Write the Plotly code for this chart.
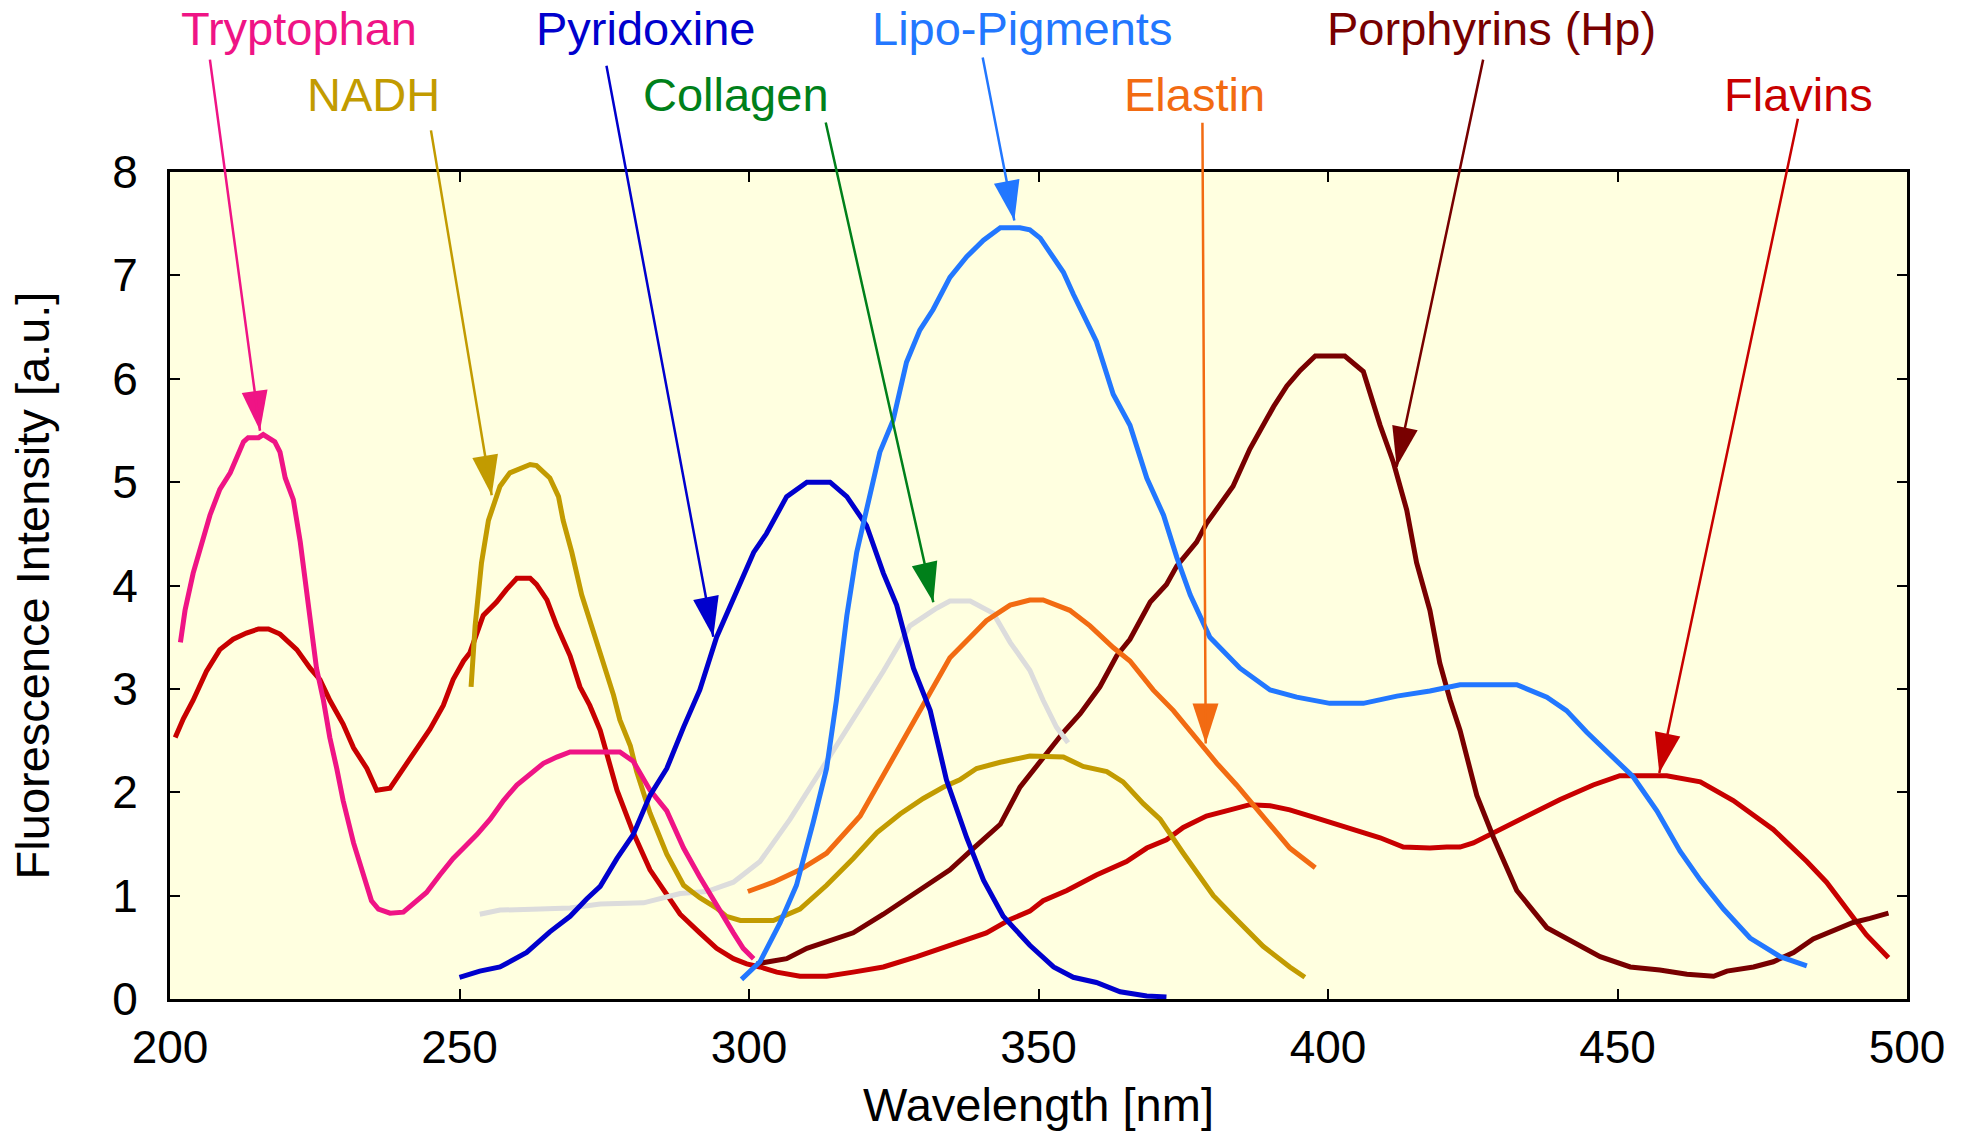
import math
import plotly.graph_objects as go

# ---------------- data ----------------
wl_trp = [201.8, 202.6, 204.0, 205.8, 206.9, 208.6, 210.4, 212.7, 213.5, 215.3, 216.1, 218.1, 219.0, 219.9,
          221.3, 222.5, 223.3, 224.2, 225.3, 226.5, 227.6, 228.8, 229.9, 231.7, 233.4, 234.8, 236.0, 238.0,
          240.3, 242.6, 244.3, 246.6, 248.9, 250.7, 253.0, 255.3, 257.6, 259.9, 262.2, 264.5, 266.8, 269.1,
          274.3, 277.7, 280.0, 282.9, 285.8, 288.7, 291.5, 294.4, 297.3, 299.0, 300.8]
fl_trp = [3.45, 3.76, 4.12, 4.47, 4.68, 4.93, 5.09, 5.39, 5.43, 5.43, 5.46, 5.39, 5.29, 5.04,
          4.83, 4.42, 4.07, 3.76, 3.20, 2.89, 2.53, 2.23, 1.92, 1.51, 1.20, 0.95, 0.87, 0.83,
          0.84, 0.95, 1.03, 1.20, 1.36, 1.46, 1.59, 1.74, 1.92, 2.07, 2.17, 2.28, 2.34, 2.39,
          2.39, 2.39, 2.30, 2.02, 1.82, 1.46, 1.18, 0.90, 0.64, 0.49, 0.39]

wl_fla = [200.9, 202.3, 204.0, 206.3, 208.6, 210.9, 213.2, 215.3, 217.0, 219.0, 221.9, 224.2, 225.9, 227.6,
          229.9, 231.7, 234.0, 235.7, 238.0, 240.3, 242.6, 244.9, 247.2, 248.9, 250.7, 251.8, 254.1, 256.4,
          258.1, 259.9, 262.2, 263.3, 265.1, 266.8, 269.1, 270.8, 272.5, 274.3, 277.2, 280.0, 282.9, 285.8,
          288.1, 291.5, 294.4, 297.3, 299.6, 301.9, 304.8, 308.8, 313.4, 318.0, 323.2, 329.0, 335.3, 341.0,
          345.1, 348.5, 350.8, 354.9, 360.0, 365.2, 368.7, 372.1, 375.0, 379.0, 383.1, 386.5, 390.0, 393.4,
          397.5, 403.2, 409.0, 413.0, 417.6, 420.5, 422.8, 425.1, 429.7, 434.3, 440.1, 445.8, 450.4, 458.5,
          464.3, 470.0, 476.9, 482.7, 486.1, 489.6, 493.0, 496.8]
fl_fla = [2.53, 2.71, 2.89, 3.17, 3.38, 3.48, 3.54, 3.58, 3.58, 3.53, 3.38, 3.20, 3.09, 2.89,
          2.66, 2.43, 2.23, 2.02, 2.04, 2.23, 2.43, 2.61, 2.84, 3.09, 3.27, 3.35, 3.71, 3.84,
          3.96, 4.07, 4.07, 4.01, 3.86, 3.61, 3.32, 3.02, 2.84, 2.60, 2.02, 1.61, 1.25, 1.00,
          0.82, 0.64, 0.49, 0.39, 0.34, 0.31, 0.26, 0.22, 0.22, 0.26, 0.31, 0.41, 0.53, 0.64,
          0.77, 0.85, 0.95, 1.05, 1.20, 1.33, 1.46, 1.54, 1.66, 1.77, 1.83, 1.88, 1.87, 1.83,
          1.76, 1.66, 1.56, 1.47, 1.46, 1.47, 1.47, 1.51, 1.64, 1.76, 1.93, 2.07, 2.16, 2.16,
          2.10, 1.92, 1.64, 1.33, 1.13, 0.87, 0.62, 0.40]

wl_por = [301.3, 306.5, 310.0, 314.6, 318.0, 323.2, 329.5, 334.7, 338.8, 343.4, 346.8, 348.5, 350.3, 354.3,
          357.2, 360.6, 363.5, 365.8, 369.3, 372.1, 373.9, 377.3, 379.0, 383.6, 386.5, 390.6, 392.9, 395.2,
          397.8, 402.9, 406.1, 409.0, 411.3, 413.6, 415.3, 417.6, 419.3, 421.1, 422.8, 425.7, 428.6, 432.6,
          437.8, 441.8, 447.0, 452.2, 457.3, 462.0, 466.6, 468.9, 473.5, 476.9, 480.4, 483.8, 487.3, 490.7,
          493.6, 496.8]
fl_por = [0.34, 0.39, 0.49, 0.57, 0.64, 0.82, 1.05, 1.25, 1.46, 1.69, 2.05, 2.17, 2.30, 2.58,
          2.76, 3.02, 3.32, 3.48, 3.84, 4.01, 4.19, 4.42, 4.60, 4.96, 5.32, 5.73, 5.93, 6.08,
          6.22, 6.22, 6.07, 5.55, 5.19, 4.73, 4.22, 3.76, 3.25, 2.89, 2.60, 1.97, 1.56, 1.05,
          0.69, 0.57, 0.41, 0.31, 0.28, 0.24, 0.22, 0.27, 0.31, 0.36, 0.45, 0.58, 0.66, 0.74,
          0.78, 0.83]

wl_nadh = [252.0, 252.7, 253.8, 255.0, 257.0, 258.7, 262.2, 263.3, 265.6, 267.1, 267.9, 269.4, 271.1, 272.8,
           274.3, 276.6, 277.7, 279.5, 280.6, 282.9, 285.8, 288.7, 291.5, 294.4, 296.1, 298.5, 304.2, 308.8,
           313.4, 318.0, 322.1, 326.1, 330.1, 333.6, 336.4, 339.3, 343.4, 348.5, 354.3, 357.7, 361.8, 364.6,
           368.1, 371.0, 375.0, 380.2, 384.2, 388.8, 393.4, 396.0]
fl_nadh = [3.02, 3.61, 4.22, 4.63, 4.96, 5.09, 5.17, 5.16, 5.04, 4.86, 4.63, 4.32, 3.91, 3.61,
           3.35, 2.94, 2.70, 2.45, 2.20, 1.80, 1.40, 1.10, 0.98, 0.88, 0.80, 0.76, 0.76, 0.87,
           1.10, 1.36, 1.61, 1.79, 1.94, 2.05, 2.12, 2.23, 2.29, 2.35, 2.34, 2.25, 2.20, 2.10,
           1.89, 1.74, 1.41, 1.00, 0.77, 0.51, 0.31, 0.21]

wl_col = [253.5, 257.0, 263.9, 269.1, 274.3, 281.8, 288.1, 292.7, 297.3, 301.9, 307.1, 311.7, 317.4, 323.2,
          327.8, 332.4, 334.7, 338.2, 342.2, 345.1, 348.5, 350.8, 353.1, 355.1]
fl_col = [0.82, 0.86, 0.87, 0.88, 0.92, 0.93, 1.02, 1.04, 1.13, 1.33, 1.74, 2.15, 2.66, 3.17,
          3.61, 3.78, 3.85, 3.85, 3.73, 3.45, 3.18, 2.89, 2.63, 2.48]

wl_pyr = [250.0, 253.5, 257.0, 261.6, 265.6, 269.1, 272.0, 274.3, 277.2, 280.0, 282.9, 285.8, 288.7, 291.5,
          294.4, 297.3, 300.8, 303.0, 306.5, 310.0, 314.0, 316.9, 320.3, 323.2, 325.5, 328.4, 331.3, 334.1,
          337.6, 340.5, 343.9, 348.5, 352.6, 356.0, 360.0, 364.1, 368.7, 372.1]
fl_pyr = [0.21, 0.27, 0.31, 0.45, 0.65, 0.80, 0.97, 1.09, 1.36, 1.59, 1.97, 2.23, 2.63, 2.99,
          3.50, 3.86, 4.32, 4.50, 4.86, 5.00, 5.00, 4.86, 4.58, 4.12, 3.81, 3.20, 2.79, 2.12,
          1.56, 1.15, 0.80, 0.52, 0.31, 0.21, 0.16, 0.07, 0.03, 0.02]

wl_lip = [298.7, 301.9, 305.4, 308.2, 311.1, 313.4, 315.1, 316.9, 318.6, 320.3, 322.6, 324.9, 327.2, 329.5,
          331.8, 334.7, 337.6, 340.5, 343.4, 346.8, 348.5, 350.3, 354.3, 356.0, 360.0, 362.9, 365.8, 368.7,
          371.6, 373.9, 376.2, 379.6, 384.8, 390.0, 394.6, 400.3, 406.1, 411.9, 417.6, 422.8, 432.6, 437.8,
          441.2, 444.7, 448.1, 452.7, 456.8, 460.8, 464.3, 468.3, 472.9, 478.1, 482.7]
fl_lip = [0.19, 0.36, 0.74, 1.10, 1.71, 2.23, 2.89, 3.71, 4.32, 4.73, 5.29, 5.60, 6.16, 6.47,
          6.67, 6.98, 7.18, 7.34, 7.46, 7.46, 7.44, 7.36, 7.03, 6.82, 6.36, 5.85, 5.55, 5.04,
          4.68, 4.27, 3.91, 3.50, 3.20, 2.99, 2.92, 2.86, 2.86, 2.93, 2.98, 3.04, 3.04, 2.92,
          2.79, 2.58, 2.40, 2.15, 1.82, 1.43, 1.15, 0.87, 0.59, 0.41, 0.32]

wl_ela = [299.8, 304.2, 308.8, 313.4, 319.2, 323.2, 328.4, 334.7, 338.2, 341.0, 345.1, 348.5, 350.8, 355.4,
          358.9, 362.9, 365.8, 369.8, 373.3, 376.7, 380.8, 384.2, 388.8, 393.4, 397.8]
fl_ela = [1.04, 1.13, 1.25, 1.41, 1.77, 2.17, 2.69, 3.30, 3.50, 3.66, 3.81, 3.86, 3.86, 3.76,
          3.61, 3.40, 3.27, 2.99, 2.79, 2.56, 2.28, 2.07, 1.77, 1.46, 1.27]

x_ticks = [200, 250, 300, 350, 400, 450, 500]
y_ticks = [0, 1, 2, 3, 4, 5, 6, 7, 8]

# labels and pointer arrows
label_text = ["Tryptophan", "NADH", "Pyridoxine", "Collagen", "Lipo-Pigments", "Elastin",
              "Porphyrins (Hp)", "Flavins"]
label_wl = [222.3, 235.2, 282.2, 297.7, 347.2, 377.0, 428.2, 481.3]
label_row = [0, 1, 0, 1, 0, 1, 0, 1]
arrow_wl = [215.54, 255.56, 293.83, 331.83, 345.82, 378.88, 411.86, 457.22]
arrow_fl = [5.497, 4.873, 3.504, 3.837, 7.530, 2.472, 5.149, 2.187]
arrow_dx = [-50.2, -60.9, -107.0, -107.8, -31.8, -3.3, 86.7, 138.8]
arrow_dy = [-372.1, -365.9, -572.1, -480.9, -164.2, -621.8, -408.1, -655.1]

C_TRP = "#EF1485"
C_NADH = "#C29B00"
C_PYR = "#0000CD"
C_COL_TXT = "#00801A"
C_COL = "#DCDCDC"
C_LIP = "#2277FF"
C_ELA = "#F26B12"
C_POR = "#780000"
C_FLA = "#C80000"
label_color = [C_TRP, C_NADH, C_PYR, C_COL_TXT, C_LIP, C_ELA, C_POR, C_FLA]

FONT = "Liberation Sans, Arial, Helvetica, sans-serif"

fig = go.Figure()
curves = [
    ("Flavins", wl_fla, fl_fla, C_FLA),
    ("Porphyrins (Hp)", wl_por, fl_por, C_POR),
    ("Collagen", wl_col, fl_col, C_COL),
    ("NADH", wl_nadh, fl_nadh, C_NADH),
    ("Elastin", wl_ela, fl_ela, C_ELA),
    ("Tryptophan", wl_trp, fl_trp, C_TRP),
    ("Pyridoxine", wl_pyr, fl_pyr, C_PYR),
    ("Lipo-Pigments", wl_lip, fl_lip, C_LIP),
]
for name, xs, ys, col in curves:
    fig.add_trace(go.Scatter(x=xs, y=ys, mode="lines", name=name,
                             line=dict(color=col, width=5), hoverinfo="skip"))

# arrowheads (filled triangles) at the arrow tips
angles = [math.degrees(math.atan2(-dx, dy)) for dx, dy in zip(arrow_dx, arrow_dy)]
fig.add_trace(go.Scatter(x=arrow_wl, y=arrow_fl, mode="markers", cliponaxis=False,
                         marker=dict(symbol="arrow", size=42, angle=angles,
                                     color=label_color, line=dict(width=0)),
                         hoverinfo="skip"))

annotations = []
row_y = [1.1737, 1.0941]
for txt, lx, rw, col in zip(label_text, label_wl, label_row, label_color):
    annotations.append(dict(text=txt, x=lx, y=row_y[rw], xref="x", yref="paper",
                            xanchor="center", yanchor="middle", showarrow=False,
                            font=dict(family=FONT, size=47, color=col)))
for ax_, ay_, tx, ty, col in zip(arrow_dx, arrow_dy, arrow_wl, arrow_fl, label_color):
    annotations.append(dict(text=" ", x=tx, y=ty, xref="x", yref="y", ax=ax_, ay=ay_,
                            showarrow=True, arrowhead=0, arrowwidth=2.5, arrowcolor=col,
                            standoff=0, startstandoff=0, borderpad=0,
                            font=dict(size=1)))

axis_common = dict(showgrid=False, zeroline=False, showline=True, linecolor="black",
                   linewidth=3, mirror="ticks", ticks="inside", ticklen=10, tickwidth=2,
                   tickcolor="black", tickfont=dict(family=FONT, size=46, color="black"))

fig.update_layout(
    width=1970, height=1134,
    margin=dict(l=170, r=63, t=172, b=133),
    paper_bgcolor="white", plot_bgcolor="#FFFFE0",
    font=dict(family=FONT, color="black"),
    showlegend=False,
    annotations=annotations,
    xaxis=dict(range=[200, 500], tickvals=x_ticks, ticklabelstandoff=6,
               title=dict(text="Wavelength [nm]", font=dict(family=FONT, size=47), standoff=16),
               **axis_common),
    yaxis=dict(range=[0, 8], tickvals=y_ticks, ticklabelstandoff=20,
               title=dict(text="Fluorescence Intensity [a.u.]", font=dict(family=FONT, size=47),
                          standoff=48),
               **axis_common),
)

fig.write_html("out.html", config={"displayModeBar": False},
               post_script="document.body.style.margin='0';document.body.style.overflow='hidden';")
